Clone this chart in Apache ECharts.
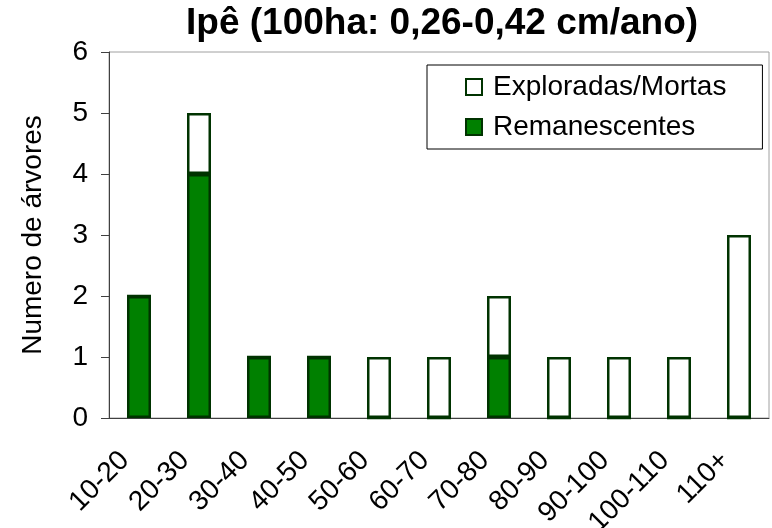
<!DOCTYPE html>
<html>
<head>
<meta charset="utf-8">
<title>Ipê</title>
<script src="https://cdn.jsdelivr.net/npm/echarts@6/dist/echarts.min.js"></script>
<style>
  html, body { margin: 0; padding: 0; background: #fff; }
  #chart { width: 772px; height: 528px; }
</style>
</head>
<body>
<div id="chart"></div>
<script>
const classes = ['10-20', '20-30', '30-40', '40-50', '50-60', '60-70', '70-80', '80-90', '90-100', '100-110', '110+']
const remanescentes = [2, 4, 1, 1, 0, 0, 1, 0, 0, 0, 0]
const exploradas = [0, 1, 0, 0, 1, 1, 1, 1, 1, 1, 3]
const yTicks = [0, 1, 2, 3, 4, 5, 6]

const font = 'Liberation Sans, Arial, sans-serif'
const green = '#008000'
const darkGreen = '#003300'
const axisGray = '#404040'

const chart = echarts.init(document.getElementById('chart'))

chart.setOption({
  animation: false,
  textStyle: { fontFamily: font },
  title: {
    text: 'Ipê (100ha: 0,26-0,42 cm/ano)',
    left: 186,
    top: 5,
    padding: 0,
    textStyle: { fontSize: 37, fontWeight: 'bold', color: '#000', fontFamily: font }
  },
  legend: {
    data: ['Exploradas/Mortas', 'Remanescentes'],
    orient: 'vertical',
    left: 427,
    top: 65,
    padding: [8, 36, 8, 38],
    itemGap: 12,
    itemWidth: 16,
    itemHeight: 16,
    icon: 'rect',
    borderColor: '#000',
    borderWidth: 1,
    backgroundColor: '#fff',
    textStyle: { fontSize: 28, lineHeight: 28, color: '#000', fontFamily: font, padding: [0, 0, 0, 6] }
  },
  grid: {
    left: 109,
    right: 3,
    top: 52,
    bottom: 110,
    outerBoundsMode: 'none',
    containLabel: false,
    show: true,
    borderColor: '#a0a0a0',
    borderWidth: 1
  },
  xAxis: {
    type: 'category',
    data: classes,
    axisLine: { lineStyle: { color: axisGray, width: 1 } },
    axisTick: { length: 8, lineStyle: { color: axisGray } },
    axisLabel: {
      interval: 0,
      rotate: 45,
      margin: 24,
      padding: [0, 20, 0, 0],
      fontSize: 28,
      color: '#000',
      fontFamily: font
    },
    splitLine: { show: false }
  },
  yAxis: {
    type: 'value',
    min: yTicks[0],
    max: yTicks[yTicks.length - 1],
    interval: 1,
    name: 'Numero de árvores',
    nameLocation: 'middle',
    nameGap: 62,
    nameTextStyle: { fontSize: 28, color: '#000', fontFamily: font },
    axisLine: { show: true, lineStyle: { color: axisGray, width: 1 } },
    axisTick: { show: true, length: 8, lineStyle: { color: axisGray } },
    axisLabel: { fontSize: 28, color: '#000', margin: 21, fontFamily: font },
    splitLine: { show: false }
  },
  series: [
    {
      name: 'Remanescentes',
      type: 'bar',
      stack: 'total',
      barWidth: 24,
      data: remanescentes,
      itemStyle: { color: green, borderColor: darkGreen, borderWidth: 2.5 }
    },
    {
      name: 'Exploradas/Mortas',
      type: 'bar',
      stack: 'total',
      barWidth: 24,
      data: exploradas,
      itemStyle: { color: '#fff', borderColor: darkGreen, borderWidth: 2.5 }
    }
  ]
})
</script>
</body>
</html>
